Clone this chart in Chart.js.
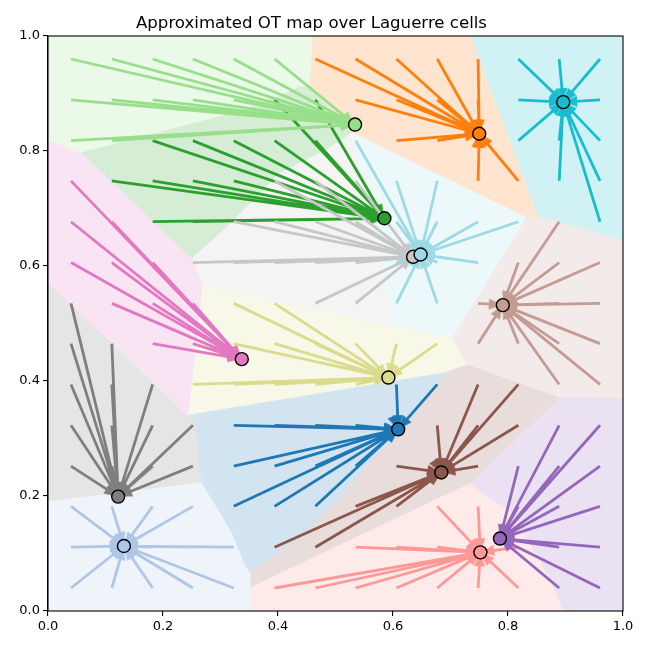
<!DOCTYPE html>
<html>
<head>
<meta charset="utf-8">
<script src="https://cdn.jsdelivr.net/npm/chart.js@4.4.1/dist/chart.umd.min.js"></script>
<style>
  html, body { margin: 0; padding: 0; background: #fff; }
  #wrap { width: 650px; height: 650px; }
</style>
</head>
<body>
<div id="wrap"><canvas id="otChart" width="650" height="650"></canvas></div>
<script>
// sites, in tab20 order (lower ones get drawn first)
const siteKeys = ['B', 'b', 'O', 'G', 'g', 'r', 'P', 'N', 'n', 'K', 'Y', 'y', 'L', 'C', 'c'];
const siteX = [0.609, 0.132, 0.750, 0.585, 0.534, 0.752, 0.786, 0.684, 0.791, 0.337, 0.122, 0.635, 0.592, 0.896, 0.648];
const siteY = [0.316, 0.113, 0.830, 0.683, 0.846, 0.102, 0.126, 0.241, 0.532, 0.438, 0.199, 0.616, 0.406, 0.885, 0.620];
const siteColors = ['#1f77b4', '#aec7e8', '#ff7f0e', '#2ca02c', '#98df8a', '#ff9896', '#9467bd', '#8c564b',
                    '#c49c94', '#e377c2', '#7f7f7f', '#c7c7c7', '#dbdb8d', '#17becf', '#9edae5'];

// source points: 14 x 14 grid, rows listed top to bottom
const gridX = [0.04, 0.111, 0.182, 0.252, 0.323, 0.394, 0.465, 0.535, 0.606, 0.677, 0.748, 0.818, 0.889, 0.96];
const gridY = [0.96, 0.889, 0.818, 0.748, 0.677, 0.606, 0.535, 0.465, 0.394, 0.323, 0.252, 0.182, 0.111, 0.04];
// which site each source point is sent to (one letter per column)
const assignRows = [
  'ggggggOOOOOCCC',
  'gggggGGOOOOCCC',
  'ggGGGGGcOOOCCC',
  'KGGGGyyyccOOCC',
  'KKGGyyyyccccnC',
  'KKKyyyyycccnnn',
  'YKKKLLyyccnnnn',
  'YYKKLLLLLLnnnn',
  'YYYLLLLLBBNNnn',
  'YYYYBBBBBNNNPP',
  'YYYYBBBBNNNPPP',
  'bbbbBBBNNrrPPP',
  'bbbbbNNrrrrrPP',
  'bbbbbrrrrrrrPP'
];

// Laguerre cell outlines, same order as the sites
const cellPolys = [
  [[0.243,0.340],[0.690,0.414],[0.635,0.341],[0.565,0.266],[0.508,0.197],[0.450,0.137],[0.351,0.068],[0.343,0.080],[0.320,0.137],[0.268,0.223],[0.256,0.329]],
  [[0,0.190],[0.268,0.223],[0.320,0.137],[0.343,0.080],[0.351,0.068],[0.351,0],[0,0]],
  [[0.461,1],[0.734,1],[0.852,0.685],[0.833,0.685],[0.529,0.833],[0.456,0.911]],
  [[0.059,0.797],[0.343,0.871],[0.438,0.911],[0.456,0.911],[0.529,0.833],[0.490,0.807],[0.403,0.763],[0.313,0.671],[0.250,0.614]],
  [[0,1],[0.461,1],[0.456,0.911],[0.438,0.911],[0.343,0.871],[0.059,0.797],[0,0.819]],
  [[0.351,0.040],[0.682,0.197],[0.734,0.221],[0.809,0.167],[0.868,0.063],[0.896,0],[0.351,0]],
  [[0.890,0.370],[1,0.370],[1,0],[0.896,0],[0.868,0.063],[0.809,0.167],[0.734,0.221]],
  [[0.729,0.428],[0.890,0.370],[0.734,0.221],[0.682,0.197],[0.351,0.040],[0.351,0.068],[0.450,0.137],[0.508,0.197],[0.565,0.266],[0.635,0.341],[0.690,0.414]],
  [[0.833,0.685],[0.852,0.685],[1,0.645],[1,0.370],[0.890,0.370],[0.729,0.428],[0.704,0.475]],
  [[0,0.819],[0.059,0.797],[0.250,0.614],[0.268,0.567],[0.243,0.340],[0,0.572]],
  [[0,0.572],[0.243,0.340],[0.256,0.329],[0.268,0.223],[0,0.190]],
  [[0.250,0.614],[0.313,0.671],[0.403,0.763],[0.490,0.807],[0.529,0.833],[0.600,0.494],[0.268,0.567]],
  [[0.268,0.567],[0.600,0.494],[0.704,0.475],[0.729,0.428],[0.690,0.414],[0.243,0.340]],
  [[0.734,1],[1,1],[1,0.645],[0.852,0.685]],
  [[0.529,0.833],[0.833,0.685],[0.704,0.475],[0.600,0.494]]
];

const tickValues = [0, 0.2, 0.4, 0.6, 0.8, 1.0];

// light version of a colour (as if drawn with alpha 0.2 on white)
function tint(hex, a) {
  const n = parseInt(hex.slice(1), 16);
  const ch = [(n >> 16) & 255, (n >> 8) & 255, n & 255].map(v => Math.round(255 * (1 - a) + v * a));
  return 'rgb(' + ch.join(',') + ')';
}

// arrow head sprite, tip at the centre, pointing along +x
function makeHead(color) {
  const len = 14, half = 5.5;
  const c = document.createElement('canvas');
  c.width = 2 * len + 2;
  c.height = 2 * len + 2;
  const g = c.getContext('2d');
  const cx = c.width / 2, cy = c.height / 2;
  g.fillStyle = color;
  g.beginPath();
  g.moveTo(cx, cy);
  g.lineTo(cx - len, cy - half);
  g.lineTo(cx - len, cy + half);
  g.closePath();
  g.fill();
  return c;
}

// collect the tails of every site
const tails = siteKeys.map(() => []);
assignRows.forEach((row, r) => {
  row.split('').forEach((key, i) => {
    tails[siteKeys.indexOf(key)].push({x: gridX[i], y: gridY[r]});
  });
});

const datasets = [];

// cells
cellPolys.forEach((poly, k) => {
  const pts = poly.map(([x, y]) => ({x, y}));
  pts.push(pts[0]);
  datasets.push({
    data: pts,
    showLine: true,
    fill: 'shape',
    backgroundColor: tint(siteColors[k], 0.2),
    borderColor: tint(siteColors[k], 0.2),
    borderWidth: 1,
    pointRadius: 0,
    order: 500
  });
});

// arrows
siteKeys.forEach((key, k) => {
  const site = {x: siteX[k], y: siteY[k]};
  const shaft = [];
  tails[k].forEach(t => { shaft.push(t, site, {x: null, y: null}); });
  datasets.push({
    data: shaft,
    showLine: true,
    spanGaps: false,
    borderColor: siteColors[k],
    borderWidth: 2.8,
    pointRadius: 0,
    fill: false,
    order: 200 - 2 * k
  });
  datasets.push({
    data: tails[k].map(() => site),
    showLine: false,
    pointStyle: makeHead(siteColors[k]),
    pointRadius: 6,
    rotation: (c) => {
      const t = tails[k][c.dataIndex];
      const xs = c.chart.scales.x, ys = c.chart.scales.y;
      const dx = xs.getPixelForValue(site.x) - xs.getPixelForValue(t.x);
      const dy = ys.getPixelForValue(site.y) - ys.getPixelForValue(t.y);
      return Math.atan2(dy, dx) * 180 / Math.PI;
    },
    order: 199 - 2 * k
  });
});

// site markers
datasets.push({
  data: siteX.map((x, k) => ({x, y: siteY[k]})),
  showLine: false,
  pointRadius: 6.5,
  pointBackgroundColor: siteColors,
  pointBorderColor: '#000',
  pointBorderWidth: 1.4,
  order: 0
});

const frame = {
  id: 'frame',
  afterDatasetsDraw(chart) {
    const {ctx, chartArea: a} = chart;
    ctx.save();
    ctx.strokeStyle = '#000';
    ctx.lineWidth = 1.1;
    ctx.strokeRect(a.left, a.top, a.right - a.left, a.bottom - a.top);
    ctx.restore();
  }
};

const tickFont = {family: 'DejaVu Sans', size: 13};
const axisCommon = {
  type: 'linear',
  min: 0,
  max: 1,
  grid: {drawOnChartArea: false, drawTicks: true, tickLength: 5, color: '#000', lineWidth: 1.1},
  border: {display: true, color: '#000', width: 1.1},
  afterBuildTicks: (s) => { s.ticks = tickValues.map(v => ({value: v})); },
  ticks: {color: '#000', font: tickFont, padding: 3, callback: (v) => Number(v).toFixed(1)}
};

new Chart(document.getElementById('otChart'), {
  type: 'scatter',
  data: {datasets},
  options: {
    responsive: false,
    animation: false,
    layout: {padding: {left: 0, right: 27, top: 1, bottom: 0}},
    scales: {
      x: Object.assign({}, axisCommon, {afterFit: (s) => { s.height = 39; }}),
      y: Object.assign({}, axisCommon, {afterFit: (s) => { s.width = 48; }})
    },
    plugins: {
      legend: {display: false},
      tooltip: {enabled: false},
      title: {
        display: true,
        text: 'Approximated OT map over Laguerre cells',
        color: '#000',
        font: {family: 'DejaVu Sans', size: 16.6, weight: 'normal'},
        padding: {top: 13, bottom: 2.08}
      }
    }
  },
  plugins: [frame]
});
</script>
</body>
</html>
